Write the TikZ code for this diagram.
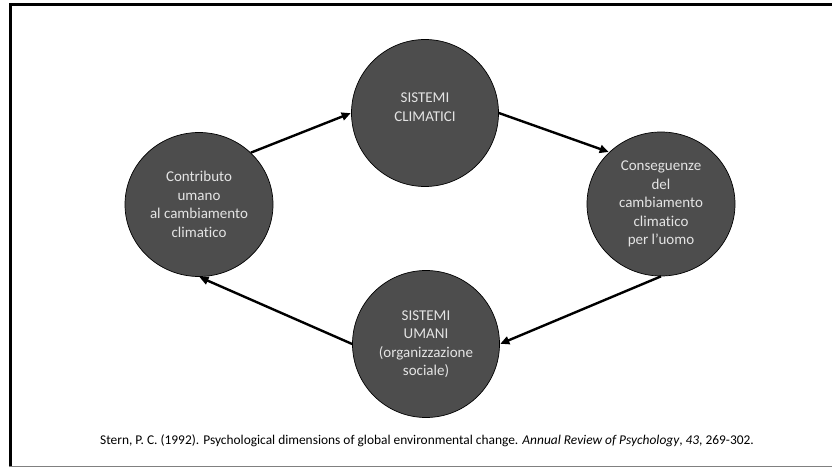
\documentclass[tikz,border=0pt]{standalone}
\usepackage{fontspec}
\setmainfont{Carlito}[Ligatures=NoCommon]
\usetikzlibrary{shapes.geometric,arrows.meta}
\definecolor{bubblefill}{RGB}{77,77,77}
\definecolor{bubbletextc}{RGB}{228,228,228}
\tikzset{
  bubble/.style={ellipse,draw=black,line width=0.7pt,fill=bubblefill,inner sep=0pt,
    minimum width=148pt,minimum height=144pt,text=bubbletextc,align=center,
    font=\fontsize{15}{18.5}\selectfont},
  bubbletxt/.style={text=bubbletextc,align=center,inner sep=0pt,
    font=\fontsize{15}{18.5}\selectfont},
  flow/.style={line width=2.4pt,-{Triangle[length=9pt,width=8pt]},shorten >=0.5pt},
}
\begin{document}
\begin{tikzpicture}[x=1pt,y=-1pt]
\useasboundingbox (0,0) rectangle (832,468);
% frame
\draw[line width=3pt,black] (10.5,467) -- (10.5,4.5) -- (832,4.5);
\draw[line width=1.5pt,gray] (9,466.5) -- (832,466.5);
% bubbles
\node[bubble,minimum width=147pt,minimum height=147pt] (top) at (425,113) {};
\node[bubbletxt] (toptext) at (425,107) {SISTEMI\\CLIMATICI};
\node[bubble] (left) at (199,204.5) {Contributo\\umano\\al cambiamento\\climatico};
\node[bubble] (right) at (661,204) {Conseguenze\\del\\cambiamento\\climatico\\per l’uomo};
\node[bubble,minimum width=147pt,minimum height=147pt] (bot) at (426,344) {SISTEMI\\UMANI\\(organizzazione\\sociale)};
% arrows
\draw[flow] (left.45) -- (top.west);
\draw[flow] (top.east) -- (right.135);
\draw[flow] (right.south) -- (bot.east);
\draw[flow] (bot.west) -- (left.south);
% citation
\node[font=\fontsize{13.4}{15}\selectfont,inner sep=0pt] (cite) at (427,441) {Stern, P. C. (1992). Psychological dimensions of global environmental change. \textit{Annual Review of Psychology}, \textit{43}, 269-302.};
\end{tikzpicture}
\end{document}
